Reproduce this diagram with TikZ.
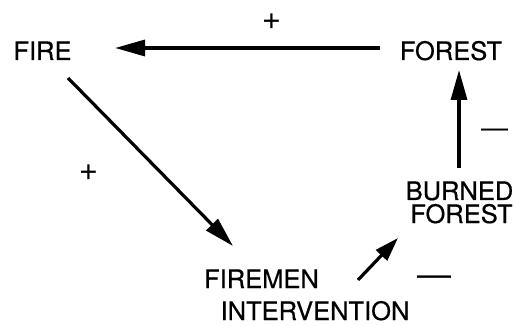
\documentclass[tikz,border=0pt]{standalone}
\usepackage{fontspec}
\setmainfont{TeX Gyre Heros}
\newfontfamily\heavyfont[FakeBold=0.5]{TeX Gyre Heros}
\usetikzlibrary{arrows.meta}
\begin{document}
\begin{tikzpicture}[x=1pt,y=-1pt,
  lbl/.style={inner sep=0pt, anchor=base, font=\heavyfont\fontsize{25.5}{23}\selectfont},
  plussign/.style={inner sep=0pt, anchor=base, font=\fontsize{33}{33}\selectfont},
  conn/.style={line width=3.2pt, -{Triangle[length=30pt,width=16pt]}},
  shortconn/.style={line width=3.2pt, -{Triangle[length=24pt,width=15pt]}}]
\useasboundingbox (0,0) rectangle (517,326);
\fill[white] (0,0) rectangle (517,326);
% nodes
\node[lbl] (fire) at (42.5,60) {FIRE};
\node[lbl] (forest) at (451,60) {FOREST};
\node[lbl] (burned) at (459.5,200) {BURNED};
\node[lbl] (burnedforest) at (461.5,223) {FOREST};
\node[lbl] (firemen) at (261.5,288) {FIREMEN};
\node[lbl] (intervention) at (315,320) {INTERVENTION};
% signs
\node[plussign] (p1) at (271.5,30) {+};
\node[plussign] (p2) at (88.5,180.3) {+};
\node[inner sep=0pt, anchor=base, font=\fontsize{27}{27}\selectfont] (m1) at (494.5,137.5) {—};
\node[inner sep=0pt, anchor=base, font=\fontsize{34}{34}\selectfont] (m2) at (434,286.4) {—};
% connectors
\draw[conn] ([shift={(-71,-12)}]forest.base) -- ([shift={(72.5,-12)}]fire.base);
\draw[conn] ([shift={(25.5,18)}]fire.base) -- ([shift={(-28.5,-42)}]firemen.base);
\draw[shortconn] ([shift={(96.5,-8)}]firemen.base) -- ([shift={(-63.5,15)}]burnedforest.base);
\draw[conn] ([shift={(-0.5,-32)}]burned.base) -- ([shift={(8,10)}]forest.base);
\end{tikzpicture}
\end{document}
